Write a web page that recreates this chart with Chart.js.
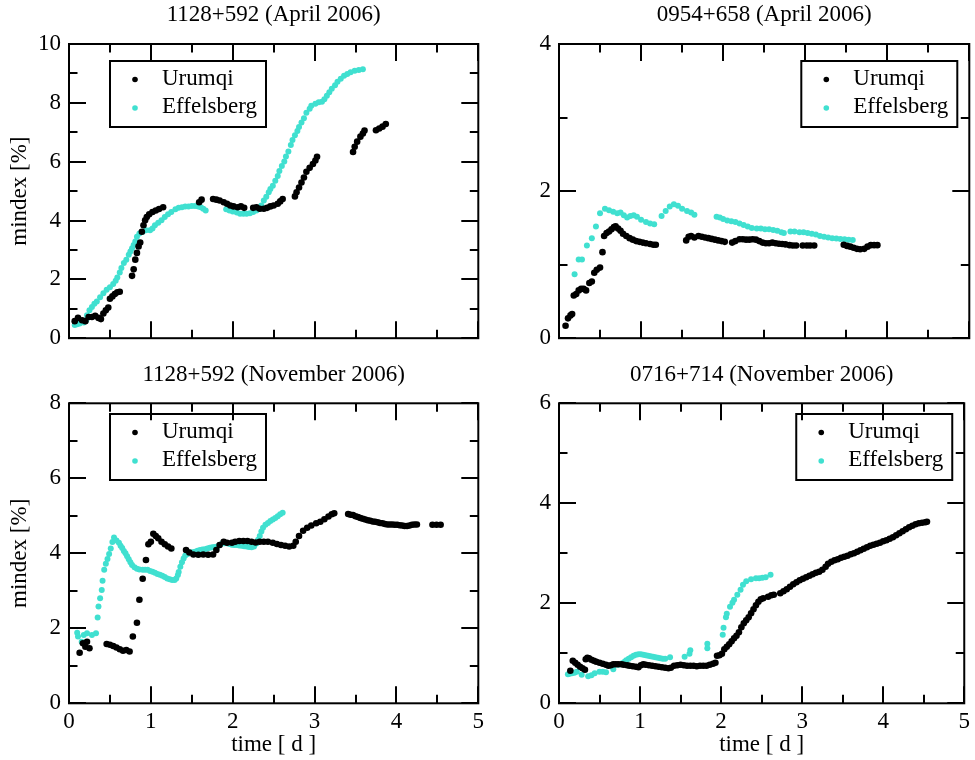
<!DOCTYPE html>
<html>
<head>
<meta charset="utf-8">
<script src="https://cdn.jsdelivr.net/npm/chart.js@4.4.1/dist/chart.umd.min.js"></script>
<style>
  html, body { margin: 0; padding: 0; background: #fff; }
  #page { position: relative; width: 975px; height: 760px; overflow: hidden; background: #fff; }
  canvas { position: absolute; }
</style>
</head>
<body>
<div id="page">
  <canvas id="c1" width="490" height="360" style="left:0;top:0"></canvas>
  <canvas id="c2" width="485" height="360" style="left:490px;top:0"></canvas>
  <canvas id="c3" width="490" height="400" style="left:0;top:360px"></canvas>
  <canvas id="c4" width="485" height="400" style="left:490px;top:360px"></canvas>
</div>
<script>
// panel titles and axis ranges
const panelTitles = [
  "1128+592 (April 2006)",
  "0954+658 (April 2006)",
  "1128+592 (November 2006)",
  "0716+714 (November 2006)"
];
const yMaxes = [10, 4, 8, 6];
const xMax = 5;
const seriesNames = ["Urumqi", "Effelsberg"];

// 1128+592, April 2006  (t in days, m in %)
const uruAprT = [0.07,0.11,0.16,0.20,0.24,0.28,0.32,0.36,0.39,0.42,
  0.45,0.48,0.50,0.53,0.56,0.59,0.62,
  0.77,0.79,0.81,0.83,0.85,0.87,0.89,0.91,0.93,
  0.95,0.98,1.02,1.06,1.10,1.15,
  1.59,1.62,
  1.76,1.80,1.84,1.89,1.93,1.97,2.01,2.06,2.10,2.14,
  2.25,2.29,2.33,2.38,2.42,2.46,2.50,2.55,2.58,2.61,
  2.76,2.78,2.81,2.84,2.87,2.90,
  2.94,2.98,3.01,3.03,
  3.47,3.49,3.52,3.56,3.59,3.61,
  3.75,3.79,3.83,3.87];
const uruAprM = [0.58,0.69,0.61,0.58,0.72,0.72,0.76,0.69,0.65,0.84,
  0.95,1.04,1.34,1.42,1.50,1.56,1.58,
  2.12,2.34,2.67,2.90,3.12,3.25,3.62,3.84,4.01,
  4.12,4.21,4.29,4.34,4.39,4.45,
  4.62,4.71,
  4.73,4.71,4.68,4.62,4.57,4.51,4.48,4.45,4.48,4.43,
  4.43,4.45,4.40,4.40,4.43,4.48,4.51,4.57,4.65,4.73,
  4.82,4.96,5.12,5.29,5.46,5.66,
  5.79,5.92,6.04,6.17,
  6.33,6.51,6.68,6.85,6.96,7.06,
  7.07,7.13,7.19,7.28];
const effAprT = [0.07,0.10,0.13,0.18,0.21,0.22,0.25,0.28,0.31,0.34,
  0.38,0.42,0.46,0.50,0.54,0.57,0.59,0.62,0.64,0.67,
  0.70,0.73,0.75,0.77,0.79,0.81,0.83,0.86,0.90,0.94,
  0.99,1.02,1.05,1.09,1.13,1.17,1.21,1.25,1.30,1.34,
  1.38,1.42,1.46,1.50,1.54,1.58,1.61,1.64,1.67,
  1.92,1.96,2.00,2.05,2.09,2.13,2.17,2.21,2.25,2.29,
  2.33,2.35,2.38,2.41,2.44,2.46,2.49,2.52,2.55,2.57,
  2.60,2.63,2.65,2.68,2.71,2.73,2.76,2.79,2.81,2.84,
  2.87,2.90,2.94,2.96,3.01,3.05,3.09,3.12,3.15,3.18,
  3.21,3.25,3.28,3.32,3.36,3.40,3.44,3.49,3.54,3.59];
const effAprM = [0.45,0.47,0.50,0.53,0.61,0.78,0.95,1.06,1.17,1.25,
  1.39,1.53,1.65,1.73,1.84,1.95,2.06,2.23,2.39,2.56,
  2.67,2.84,2.95,3.06,3.17,3.29,3.45,3.56,3.62,3.67,
  3.67,3.73,3.84,3.92,4.01,4.12,4.21,4.29,4.38,4.43,
  4.45,4.48,4.48,4.49,4.49,4.48,4.45,4.40,4.34,
  4.38,4.34,4.31,4.27,4.23,4.23,4.23,4.25,4.29,4.34,
  4.40,4.51,4.68,4.81,4.96,5.07,5.18,5.35,5.51,5.68,
  5.85,6.01,6.18,6.35,6.57,6.74,6.90,7.04,7.18,7.33,
  7.48,7.66,7.80,7.90,7.97,8.02,8.04,8.12,8.24,8.36,
  8.48,8.60,8.72,8.82,8.92,8.98,9.04,9.09,9.12,9.14];

// 0954+658, April 2006
const uru0954T = [0.08,0.11,0.14,0.16,0.18,0.21,0.24,0.27,0.30,0.33,
  0.37,0.40,0.43,0.46,0.50,0.53,0.55,0.58,0.61,0.64,
  0.67,0.69,0.72,0.75,0.78,0.82,0.86,0.90,0.94,0.98,
  1.02,1.06,1.11,1.15,1.18,
  1.55,1.58,1.61,1.65,1.70,1.74,1.78,1.82,1.86,1.90,1.94,1.98,2.02,
  2.11,2.15,2.20,2.24,2.28,2.32,2.36,2.40,2.44,2.48,
  2.52,2.56,2.60,2.64,2.68,2.72,2.76,2.81,2.85,2.89,
  2.97,3.02,3.06,3.11,
  3.47,3.51,3.55,3.59,3.63,3.67,3.72,3.76,3.80,3.84,3.88];
const uru0954M = [0.17,0.27,0.31,0.33,0.58,0.60,0.65,0.67,0.67,0.65,
  0.75,0.77,0.89,0.93,0.96,1.17,1.39,1.43,1.45,1.48,
  1.51,1.52,1.49,1.46,1.42,1.39,1.36,1.34,1.32,1.31,
  1.30,1.29,1.28,1.27,1.27,
  1.33,1.38,1.39,1.37,1.39,1.38,1.37,1.36,1.35,1.34,1.33,1.32,1.31,
  1.30,1.32,1.345,1.345,1.34,1.34,1.345,1.34,1.32,1.30,
  1.29,1.29,1.30,1.29,1.285,1.28,1.275,1.265,1.26,1.26,
  1.26,1.26,1.26,1.26,
  1.27,1.255,1.245,1.23,1.215,1.21,1.215,1.245,1.265,1.265,1.265];
const eff0954T = [0.19,0.24,0.28,0.34,0.40,0.45,0.50,0.56,0.61,0.66,
  0.71,0.75,0.79,0.83,0.87,0.91,0.95,1.00,1.06,1.11,1.16,
  1.25,1.30,1.35,1.40,1.45,1.50,1.56,1.61,1.65,
  1.92,1.96,2.00,2.05,2.10,2.15,2.20,2.25,2.30,2.35,
  2.41,2.46,2.51,2.56,2.61,2.66,2.71,2.74,
  2.82,2.87,2.93,2.98,3.03,3.08,3.13,3.18,3.23,3.28,
  3.33,3.38,3.43,3.48,3.53,3.58];
const eff0954M = [0.87,1.07,1.07,1.26,1.36,1.52,1.70,1.76,1.74,1.72,
  1.70,1.71,1.67,1.64,1.66,1.67,1.65,1.61,1.58,1.56,1.55,
  1.66,1.73,1.79,1.82,1.80,1.76,1.73,1.71,1.68,
  1.65,1.64,1.62,1.60,1.59,1.58,1.56,1.54,1.52,1.50,
  1.49,1.49,1.48,1.48,1.47,1.46,1.44,1.43,
  1.45,1.45,1.44,1.44,1.43,1.42,1.41,1.39,1.38,1.37,
  1.36,1.355,1.35,1.345,1.34,1.335];

// 1128+592, November 2006
const uruNovT = [0.13,0.17,0.20,0.22,0.25,
  0.46,0.50,0.54,0.58,0.62,0.66,0.70,0.74,
  0.78,0.83,0.86,0.90,0.94,0.97,1.00,1.03,1.06,1.09,1.13,1.17,1.21,1.25,
  1.43,1.47,1.52,1.58,1.64,1.70,1.76,1.80,1.84,1.89,
  1.93,1.99,2.03,2.08,2.13,2.18,2.23,2.28,2.33,2.38,
  2.43,2.49,2.54,2.59,2.64,2.69,2.74,2.77,2.81,2.86,
  2.91,2.96,3.02,3.07,3.12,3.17,3.21,3.24,
  3.41,3.44,3.47,3.50,3.53,3.56,3.59,3.62,3.65,3.68,
  3.71,3.74,3.77,3.80,3.83,3.86,3.89,3.92,3.95,3.98,
  4.01,4.04,4.07,4.10,4.13,4.16,4.19,4.22,4.25,
  4.44,4.49,4.54];
const uruNovM = [1.35,1.60,1.51,1.64,1.47,
  1.58,1.56,1.53,1.49,1.44,1.40,1.42,1.38,
  1.78,2.15,2.76,3.32,3.82,4.24,4.31,4.52,4.46,4.40,4.31,4.24,4.18,4.13,
  4.09,4.02,3.97,3.96,3.97,3.96,3.97,4.09,4.22,4.31,
  4.28,4.28,4.31,4.33,4.33,4.33,4.31,4.29,4.31,4.31,
  4.31,4.28,4.25,4.22,4.20,4.18,4.20,4.31,4.46,4.60,
  4.68,4.74,4.80,4.84,4.91,4.98,5.04,5.07,
  5.05,5.03,5.02,4.99,4.97,4.94,4.92,4.90,4.88,4.87,
  4.85,4.84,4.83,4.81,4.80,4.78,4.77,4.77,4.77,4.76,
  4.76,4.75,4.74,4.73,4.73,4.74,4.76,4.77,4.77,
  4.76,4.76,4.76];
const effNovT = [0.10,0.11,0.155,0.18,0.22,0.28,0.33,
  0.35,0.36,0.38,0.40,0.41,0.43,0.45,0.47,0.49,0.51,0.53,0.55,
  0.58,0.61,0.63,0.65,0.67,0.69,0.71,0.73,0.75,0.77,
  0.80,0.83,0.86,0.90,0.93,0.96,0.99,1.02,1.05,1.08,
  1.11,1.14,1.17,1.20,1.23,1.26,1.29,1.31,1.33,1.34,
  1.36,1.38,1.40,1.42,1.45,1.48,1.51,1.54,1.57,1.60,
  1.63,1.66,1.69,1.72,1.75,1.78,1.81,1.84,1.87,1.90,
  1.93,1.96,1.99,2.02,2.05,2.08,2.11,2.14,2.17,2.20,
  2.23,2.26,2.29,2.31,2.33,2.35,2.37,2.40,2.43,2.46,
  2.49,2.52,2.55,2.58,2.61];
const effNovM = [1.88,1.78,1.64,1.82,1.87,1.82,1.87,
  2.29,2.58,2.80,3.02,3.27,3.56,3.72,3.85,3.98,4.13,4.30,4.42,
  4.34,4.28,4.20,4.14,4.06,4.00,3.92,3.84,3.76,3.69,
  3.63,3.59,3.57,3.56,3.56,3.56,3.53,3.51,3.48,3.45,
  3.43,3.40,3.37,3.33,3.31,3.29,3.29,3.33,3.42,3.50,
  3.64,3.76,3.86,3.94,3.98,4.02,4.03,4.04,4.07,4.09,
  4.10,4.11,4.13,4.15,4.16,4.17,4.18,4.22,4.26,4.27,
  4.27,4.25,4.23,4.22,4.22,4.21,4.20,4.19,4.18,4.17,
  4.16,4.18,4.26,4.36,4.46,4.58,4.68,4.76,4.81,4.86,
  4.90,4.94,4.99,5.04,5.08];

// 0716+714, November 2006
const uru0716T = [0.14,
  0.17,0.20,0.23,0.26,0.29,0.32,
  0.33,0.35,0.37,0.40,0.43,0.46,0.50,0.54,0.58,0.61,
  0.64,0.67,0.70,0.73,0.77,0.80,0.84,0.87,0.91,0.95,
  0.98,1.01,1.04,1.07,1.11,1.15,1.19,1.23,1.27,1.31,
  1.35,1.38,1.42,1.46,1.50,1.54,1.58,1.62,1.66,1.70,
  1.74,1.78,1.82,1.86,1.90,1.93,
  1.95,1.98,2.01,2.04,2.07,2.10,2.13,2.16,2.19,2.22,
  2.25,2.28,2.31,2.34,2.37,2.40,2.43,2.46,2.49,2.52,
  2.58,2.62,2.65,
  2.73,2.77,2.81,2.85,2.89,2.93,2.97,3.01,3.05,3.09,
  3.13,3.17,3.21,3.25,3.29,3.32,3.36,3.40,3.44,3.48,
  3.52,3.56,3.60,3.64,3.68,3.72,3.76,3.80,3.84,3.88,
  3.92,3.96,4.00,4.04,4.08,4.12,4.16,4.20,4.24,4.28,
  4.32,4.36,4.40,4.44,4.48,4.52,4.54];
const uru0716M = [0.65,
  0.85,0.81,0.77,0.73,0.70,0.67,
  0.88,0.91,0.90,0.87,0.85,0.83,0.81,0.79,0.77,0.75,
  0.76,0.78,0.78,0.78,0.78,0.77,0.76,0.75,0.74,0.73,
  0.72,0.76,0.78,0.77,0.76,0.75,0.74,0.73,0.72,0.71,
  0.70,0.71,0.75,0.76,0.77,0.76,0.75,0.75,0.75,0.74,
  0.75,0.75,0.75,0.77,0.79,0.81,
  0.95,0.96,0.99,1.08,1.13,1.18,1.24,1.30,1.35,1.42,
  1.52,1.60,1.66,1.72,1.80,1.88,1.96,2.03,2.08,2.10,
  2.13,2.16,2.17,
  2.20,2.24,2.28,2.33,2.38,2.42,2.46,2.49,2.52,2.55,
  2.58,2.61,2.63,2.67,2.73,2.79,2.83,2.86,2.88,2.91,
  2.93,2.95,2.98,3.00,3.03,3.06,3.09,3.12,3.15,3.17,
  3.19,3.21,3.24,3.26,3.29,3.32,3.36,3.40,3.44,3.48,
  3.52,3.55,3.58,3.60,3.61,3.62,3.63];
const eff0716T = [0.11,0.13,0.16,0.19,0.22,0.28,0.36,0.40,0.44,0.50,0.54,0.58,0.67,0.73,0.78,0.81,
  0.83,0.86,0.89,0.92,0.95,0.98,1.01,1.04,1.07,1.10,1.13,1.16,1.19,1.22,1.25,1.28,1.31,
  1.37,1.55,1.61,1.62,1.83,1.83,
  2.02,2.03,2.06,2.07,2.11,2.14,2.16,2.20,2.24,2.27,2.31,2.37,2.43,2.47,2.51,2.55,2.61];
const eff0716M = [0.58,0.59,0.60,0.61,0.63,0.57,0.54,0.56,0.60,0.63,0.63,0.62,0.68,0.77,0.80,0.83,
  0.86,0.89,0.92,0.95,0.97,0.98,0.98,0.97,0.96,0.95,0.94,0.93,0.92,0.91,0.90,0.89,0.89,
  0.92,0.93,0.99,1.06,1.10,1.19,
  1.37,1.51,1.72,1.79,1.93,2.01,2.07,2.17,2.27,2.37,2.44,2.48,2.50,2.50,2.51,2.52,2.57];

const FONT = "'Liberation Serif', 'Times New Roman', serif";
const FONT_SIZE = 23;
const TURQUOISE = "#40e0d0";

Chart.defaults.font.family = FONT;
Chart.defaults.font.size = FONT_SIZE;
Chart.defaults.color = "#000";

function toPoints(t, m) {
  return t.map((v, i) => ({ x: v, y: m[i] }));
}

// frame round the plot with inward major/minor ticks on all four sides
const frameTicks = {
  id: "frameTicks",
  afterDatasetsDraw(chart) {
    const { ctx, chartArea: a, scales } = chart;
    const x = scales.x, y = scales.y;
    ctx.save();
    ctx.strokeStyle = "#000";
    ctx.lineWidth = 2;
    ctx.beginPath();
    for (let i = 0; i <= x.max * 2; i++) {
      const px = Math.round(x.getPixelForValue(i / 2));
      const len = i % 2 === 0 ? 17 : 8.5;
      ctx.moveTo(px, a.bottom); ctx.lineTo(px, a.bottom - len);
      ctx.moveTo(px, a.top); ctx.lineTo(px, a.top + len);
    }
    for (let i = 0; i <= y.max; i++) {
      const py = Math.round(y.getPixelForValue(i));
      const len = i % 2 === 0 ? 17 : 8.5;
      ctx.moveTo(a.left, py); ctx.lineTo(a.left + len, py);
      ctx.moveTo(a.right, py); ctx.lineTo(a.right - len, py);
    }
    ctx.stroke();
    ctx.strokeRect(a.left, a.top, a.right - a.left, a.bottom - a.top);
    ctx.restore();
  }
};

// xmgrace style legend box
const boxLegend = {
  id: "boxLegend",
  afterDraw(chart, args, opts) {
    const { ctx, chartArea: a } = chart;
    const w = 156, h = 66;
    const left = opts.side === "left" ? a.left + 41 : a.right - 12 - w;
    const top = a.top + opts.dy;
    ctx.save();
    ctx.lineWidth = 2;
    ctx.strokeStyle = "#000";
    ctx.strokeRect(left, top, w, h);
    ctx.font = FONT_SIZE + "px " + FONT;
    ctx.textBaseline = "middle";
    chart.data.datasets.forEach((ds, i) => {
      const cy = top + 18.5 + i * 28.5;
      ctx.fillStyle = ds.backgroundColor;
      ctx.beginPath();
      ctx.arc(left + 25, cy, 2.8, 0, Math.PI * 2);
      ctx.fill();
      ctx.fillStyle = "#000";
      ctx.fillText(ds.label, left + 52, cy - 1);
    });
    ctx.restore();
  }
};

function makePanel(canvasId, p) {
  const ctx = document.getElementById(canvasId).getContext("2d");
  const canvasH = ctx.canvas.height;

  return new Chart(ctx, {
    type: "scatter",
    data: {
      datasets: [{
        label: seriesNames[0],
        data: toPoints(p.uruT, p.uruM),
        backgroundColor: "#000000",
        pointRadius: 3.3,
        pointBorderWidth: 0
      }, {
        label: seriesNames[1],
        data: toPoints(p.effT, p.effM),
        backgroundColor: TURQUOISE,
        pointRadius: 3,
        pointBorderWidth: 0
      }]
    },
    options: {
      responsive: false,
      animation: false,
      events: [],
      layout: { padding: { left: 0, right: p.padRight, top: 0, bottom: 0 } },
      plugins: {
        legend: { display: false },
        tooltip: { enabled: false },
        title: {
          display: true,
          fullSize: false,
          text: p.title,
          font: { size: FONT_SIZE, weight: "normal" },
          color: "#000",
          padding: { top: 1.5, bottom: p.titleGap }
        },
        boxLegend: { side: p.legendSide, dy: p.legendDy }
      },
      scales: {
        x: {
          type: "linear",
          min: 0,
          max: xMax,
          grid: { display: false, drawTicks: false },
          border: { display: false },
          ticks: { display: p.xLabels, stepSize: 1, padding: 5, color: "#000" },
          title: {
            display: p.xLabels,
            text: "time [ d ]",
            color: "#000",
            padding: { top: 0, bottom: 1.2 }
          },
          afterFit(s) { s.height = canvasH - p.plotBottom; }
        },
        y: {
          min: 0,
          max: p.yMax,
          grid: { display: false, drawTicks: false },
          border: { display: false },
          ticks: { stepSize: 2, padding: 8, color: "#000" },
          title: {
            display: p.yTitle,
            text: "mindex [%]",
            color: "#000",
            padding: { top: 6.2, bottom: 0 }
          },
          afterFit(s) { s.width = 69; }
        }
      }
    },
    plugins: [frameTicks, boxLegend]
  });
}

makePanel("c1", {
  title: panelTitles[0], yMax: yMaxes[0],
  uruT: uruAprT, uruM: uruAprM, effT: effAprT, effM: effAprM,
  padRight: 11.7, titleGap: 14.9, plotBottom: 343.3,
  xLabels: false, yTitle: true, legendSide: "left", legendDy: 17
});
makePanel("c2", {
  title: panelTitles[1], yMax: yMaxes[1],
  uruT: uru0954T, uruM: uru0954M, effT: eff0954T, effM: eff0954M,
  padRight: 5.7, titleGap: 14.9, plotBottom: 343.3,
  xLabels: false, yTitle: false, legendSide: "right", legendDy: 17
});
makePanel("c3", {
  title: panelTitles[2], yMax: yMaxes[2],
  uruT: uruNovT, uruM: uruNovM, effT: effNovT, effM: effNovM,
  padRight: 11.7, titleGap: 14.2, plotBottom: 343.3,
  xLabels: true, yTitle: true, legendSide: "left", legendDy: 10.7
});
makePanel("c4", {
  title: panelTitles[3], yMax: yMaxes[3],
  uruT: uru0716T, uruM: uru0716M, effT: eff0716T, effM: eff0716M,
  padRight: 5.7, titleGap: 14.2, plotBottom: 343.3,
  xLabels: true, yTitle: false, legendSide: "right", legendDy: 10.7
});
</script>
</body>
</html>
